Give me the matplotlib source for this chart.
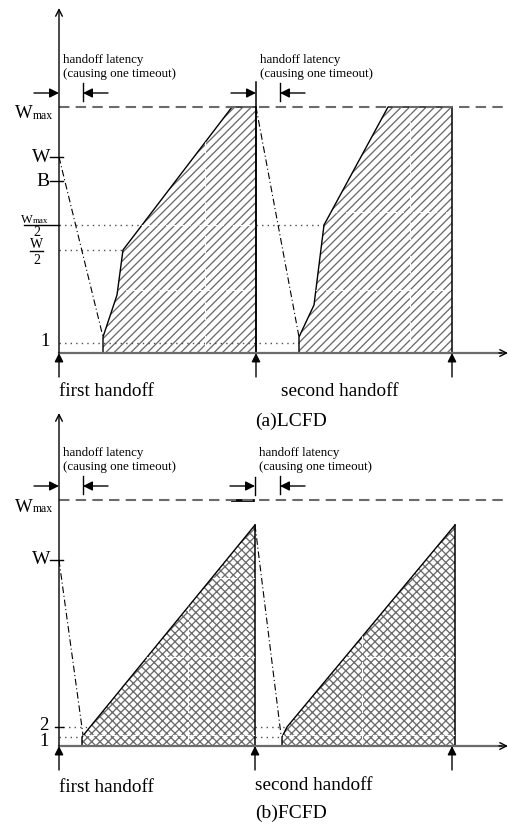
import matplotlib
matplotlib.use('Agg')
import matplotlib.pyplot as plt
from matplotlib.patches import Polygon

plt.rcParams['font.family'] = ['Liberation Serif', 'DejaVu Serif']
plt.rcParams['hatch.linewidth'] = 0.95

# ---- panel (a) LCFD : x = time, y = window (both in drawing units) ----
a_levels = {'Wmax': 246, 'W': 196, 'B': 172, 'Wmax2': 128, 'W2': 103, 'one': 10}
a_handoffs = [0, 197, 393]
a_latency_end = [24, 221]
a_drop1 = ([0, 44], [196, 16])
a_drop2 = ([197, 240], [246, 16])
a_cycle1_x = [44, 44, 58, 64, 173, 197, 197]
a_cycle1_y = [0, 16, 58, 103, 246, 246, 0]
a_cycle2_x = [240, 240, 255, 265, 329, 393, 393]
a_cycle2_y = [0, 16, 48, 128, 246, 246, 0]

# ---- panel (b) FCFD ----
b_levels = {'Wmax': 246, 'W': 186, 'two': 19, 'one': 9}
b_handoffs = [0, 196, 393]
b_latency_end = [24, 221]
b_drop1 = ([0, 24], [186, 11])
b_drop2 = ([196, 222], [221, 11])
b_cycle1_x = [23, 23, 31, 196, 196]
b_cycle1_y = [0, 9, 19, 221, 0]
b_cycle2_x = [223, 223, 228, 396, 396]
b_cycle2_y = [0, 9, 19, 221, 0]

GREY = '0.42'

fig = plt.figure(figsize=(5.08, 8.25), dpi=100)
ax_a = fig.add_axes([0, 0, 1, 1])
ax_a.set_xlim(-59, 449)
ax_a.set_ylim(353 - 825, 353)
ax_b = fig.add_axes([0, 0, 1, 1])
ax_b.set_xlim(-59, 449)
ax_b.set_ylim(746 - 825, 746)
for ax in (ax_a, ax_b):
    ax.axis('off')
    ax.patch.set_alpha(0)


def arrow(ax, xy, xytext, style='-|>', lw=1.0, ms=12):
    ax.annotate('', xy=xy, xytext=xytext,
                arrowprops=dict(arrowstyle=style, color='black', lw=lw,
                                mutation_scale=ms, shrinkA=0, shrinkB=0))


def frame(ax, top, wmax, handoffs, lat_end):
    # axes
    arrow(ax, (0, top), (0, 0), style='->', lw=1.0, ms=12)
    ax.plot([0, 442], [0, 0], color=GREY, lw=1.6)
    arrow(ax, (449, 0), (440, 0), style='->', lw=1.0, ms=12)
    ax.plot([0, 449], [wmax, wmax], color=GREY, lw=1.5, ls=(0, (5, 3)))
    # handoff arrows below the time axis
    for t in handoffs:
        arrow(ax, (t, 0), (t, -24), ms=13)
    # handoff latency annotations
    ay = 260
    for t0, t1 in zip(handoffs[:2], lat_end):
        ax.plot([t1, t1], [ay - 8, ay + 10], color='black', lw=1.0)
        arrow(ax, (t0, ay), (t0 - 25, ay), ms=14)
        arrow(ax, (t1, ay), (t1 + 25, ay), ms=14)
        ax.text(t0 + 4, 293, 'handoff latency', fontsize=9.4, va='center', ha='left')
        ax.text(t0 + 4, 279, '(causing one timeout)', fontsize=9.4, va='center', ha='left')
    # Wmax label
    ax.text(-26, wmax - 7, 'W', fontsize=13.5, ha='right', va='center')
    ax.text(-26, wmax - 9, 'max', fontsize=8.5, ha='left', va='center')


def sawtooth(ax, xs, ys, hatch):
    poly = Polygon(list(zip(xs, ys)), closed=True, facecolor='white',
                   edgecolor=GREY, lw=0, hatch=hatch)
    ax.add_patch(poly)
    ax.plot(xs[:-1], ys[:-1], color='black', lw=1.0)
    ax.plot([xs[-1], xs[-1]], [0, ys[-2]], color='black', lw=1.1)
    return poly


def grid_lines(ax, poly, hs, vs, xmax, ymax):
    for h in hs:
        ln, = ax.plot([0, xmax], [h, h], color='white', lw=0.8, ls=(0, (4, 2)))
        ln.set_clip_path(poly)
    for v in vs:
        ln, = ax.plot([v, v], [0, ymax], color='white', lw=0.8, ls=(0, (4, 2)))
        ln.set_clip_path(poly)


def dotted(ax, x0, x1, y):
    ax.plot([x0, x1], [y, y], color='0.3', lw=1.0, ls=(0, (1, 3)))


# ================= panel (a) =================
L = a_levels
dotted(ax_a, 0, 240, L['one'])
dotted(ax_a, 0, 64, L['W2'])
dotted(ax_a, 0, 83, L['Wmax2'])
dotted(ax_a, 197, 265, L['Wmax2'])
p1 = sawtooth(ax_a, a_cycle1_x, a_cycle1_y, '////')
p2 = sawtooth(ax_a, a_cycle2_x, a_cycle2_y, '////')
grid_lines(ax_a, p1, [63, 128], [146], 449, 246)
grid_lines(ax_a, p2, [63, 141], [351], 449, 246)
ax_a.plot([197, 197], [0, 271], color='black', lw=1.1)
ax_a.plot(*a_drop1, color='black', lw=0.8, ls=(0, (6, 2.5, 1, 2.5)))
ax_a.plot(*a_drop2, color='black', lw=0.8, ls=(0, (6, 2.5, 1, 2.5)))
frame(ax_a, 345, L['Wmax'], a_handoffs, a_latency_end)

for key, lab in (('W', 'W'), ('B', 'B')):
    ax_a.plot([-9, 4], [L[key], L[key]], color='black', lw=1.0)
    ax_a.text(-9, L[key], lab, fontsize=14, ha='right', va='center')
# Wmax/2 fraction
ax_a.plot([-35, 0], [L['Wmax2'], L['Wmax2']], color='black', lw=1.0)
ax_a.text(-26, L['Wmax2'] + 5, 'W', fontsize=9, ha='right', va='center')
ax_a.text(-26, L['Wmax2'] + 4, 'max', fontsize=6.5, ha='left', va='center')
ax_a.text(-22, L['Wmax2'] - 7, '2', fontsize=10, ha='center', va='center')
# W/2 fraction
ax_a.plot([-29, -16], [L['W2'] - 1, L['W2'] - 1], color='black', lw=1.0)
ax_a.text(-22, L['W2'] + 5, 'W', fontsize=10, ha='center', va='center')
ax_a.text(-22, L['W2'] - 11, '2', fontsize=10, ha='center', va='center')
ax_a.text(-9, L['one'] + 1, '1', fontsize=13.5, ha='right', va='center')

ax_a.text(0, -39, 'first handoff', fontsize=13.8, ha='left', va='center')
ax_a.text(222, -39, 'second handoff', fontsize=13.8, ha='left', va='center')
ax_a.text(196, -68, '(a)LCFD', fontsize=14, ha='left', va='center')

# ================= panel (b) =================
L = b_levels
dotted(ax_b, 0, 23, L['one'])
dotted(ax_b, 196, 223, L['one'])
dotted(ax_b, 4, 31, L['two'])
dotted(ax_b, 196, 228, L['two'])
q1 = sawtooth(ax_b, b_cycle1_x, b_cycle1_y, 'xxxx')
q2 = sawtooth(ax_b, b_cycle2_x, b_cycle2_y, 'xxxx')
grid_lines(ax_b, q1, [11, 89, 168], [129], 449, 246)
grid_lines(ax_b, q2, [11, 89], [303], 449, 246)
ax_b.plot([196, 196], [251, 269], color='black', lw=1.0)
ax_b.plot([173, 194], [246, 246], color='black', lw=2.0)
ax_b.plot(*b_drop1, color='black', lw=0.8, ls=(0, (6, 2.5, 1, 2.5)))
ax_b.plot(*b_drop2, color='black', lw=0.8, ls=(0, (6, 2.5, 1, 2.5)))
frame(ax_b, 333, L['Wmax'], b_handoffs, b_latency_end)

ax_b.plot([-9, 4], [L['W'], L['W']], color='black', lw=1.0)
ax_b.text(-9, L['W'], 'W', fontsize=14, ha='right', va='center')
ax_b.plot([-4, 4], [L['two'], L['two']], color='black', lw=1.0)
ax_b.text(-10, L['two'] + 1, '2', fontsize=13.5, ha='right', va='center')
ax_b.text(-10, L['one'] - 5, '1', fontsize=13.5, ha='right', va='center')

ax_b.text(0, -41, 'first handoff', fontsize=13.8, ha='left', va='center')
ax_b.text(196, -39, 'second handoff', fontsize=13.8, ha='left', va='center')
ax_b.text(196, -67, '(b)FCFD', fontsize=14, ha='left', va='center')

fig.savefig('out.png', dpi=100)
